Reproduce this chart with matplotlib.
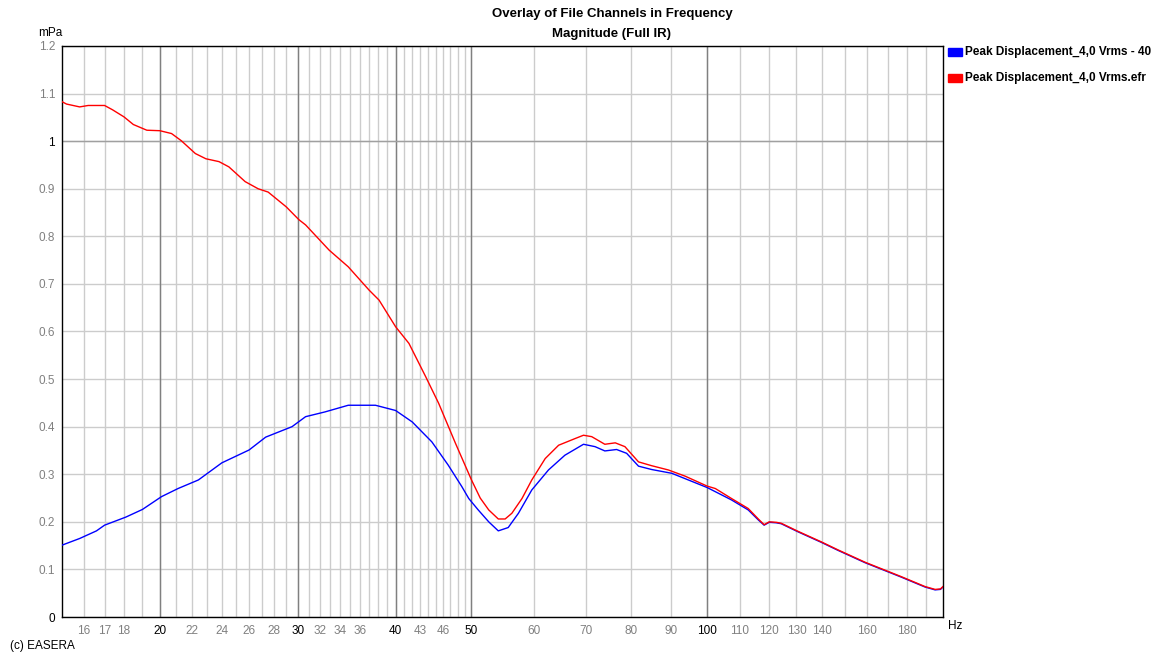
import numpy as np
import matplotlib
matplotlib.use("Agg")
import matplotlib.pyplot as plt
from matplotlib.ticker import NullFormatter

plt.rcParams['font.family'] = ['Liberation Sans', 'DejaVu Sans']

# Frequencies (Hz) and magnitudes (mPa)
freq_red = [15, 15.2, 15.8, 16.2, 17.0, 17.4, 18, 18.5, 19.25, 20, 20.7, 21.3, 22.2, 22.9, 23.8,
            24.5, 25.7, 26.7, 27.5, 29.0, 30.1, 30.7, 32.9, 34.8, 37.0, 38.1, 40, 41.6, 43.7,
            45.4, 47.7, 50.0, 51.3, 52.6, 54.1, 55.2, 56.3, 58.0, 59.7, 62.1, 64.6, 67.8, 69.5,
            71.2, 74.0, 76.3, 78.5, 81.7, 84.9, 89.2, 93.7, 100, 102.4, 107.4, 112.8, 116.2,
            118.2, 120, 122.5, 124.3, 130.6, 139.8, 146.9, 159.1, 176.8, 189.7, 195.4, 198.5, 200]
mag_red = [1.083, 1.078, 1.072, 1.075, 1.075, 1.066, 1.051, 1.035, 1.023, 1.022, 1.016, 1.001,
           0.974, 0.963, 0.957, 0.946, 0.915, 0.900, 0.893, 0.862, 0.835, 0.824, 0.771, 0.736,
           0.687, 0.666, 0.610, 0.575, 0.505, 0.449, 0.365, 0.288, 0.250, 0.225, 0.206, 0.206,
           0.218, 0.249, 0.288, 0.333, 0.361, 0.375, 0.382, 0.379, 0.363, 0.366, 0.358, 0.326,
           0.318, 0.309, 0.296, 0.275, 0.270, 0.249, 0.228, 0.206, 0.194, 0.200, 0.199, 0.197,
           0.180, 0.158, 0.141, 0.115, 0.085, 0.064, 0.058, 0.059, 0.064]

freq_blue = [15, 15.8, 16.6, 17.0, 18.1, 19.0, 20.1, 21.1, 22.4, 24.0, 26.0, 27.3, 29.5, 30.7,
             32.5, 34.8, 37.7, 40, 42.0, 44.5, 46.7, 48.6, 49.6, 51, 52.6, 54.1, 55.7, 57.4,
             59.7, 62.7, 65.8, 69.5, 71.9, 74.0, 76.6, 78.9, 81.7, 84.9, 90.1, 100, 107.4, 112.8,
             116.2, 118.2, 120, 122.5, 124.3, 130.6, 139.8, 146.9, 159.1, 176.8, 189.7, 195.4,
             198.5, 200]
mag_blue = [0.151, 0.165, 0.181, 0.193, 0.210, 0.226, 0.253, 0.270, 0.288, 0.324, 0.351, 0.378,
            0.400, 0.421, 0.431, 0.445, 0.445, 0.434, 0.410, 0.368, 0.319, 0.274, 0.249, 0.225,
            0.200, 0.181, 0.188, 0.218, 0.267, 0.309, 0.340, 0.363, 0.358, 0.349, 0.352, 0.344,
            0.317, 0.310, 0.302, 0.272, 0.246, 0.225, 0.204, 0.193, 0.199, 0.198, 0.196, 0.179,
            0.157, 0.140, 0.114, 0.084, 0.063, 0.057, 0.058, 0.063]

x_labels = [16, 17, 18, 20, 22, 24, 26, 28, 30, 32, 34, 36, 40, 43, 46, 50, 60, 70, 80, 90,
            100, 110, 120, 130, 140, 160, 180]
x_bold = [20, 30, 40, 50, 100]
x_grid = list(range(16, 51)) + list(range(60, 200, 10))
y_ticks = [0, 0.1, 0.2, 0.3, 0.4, 0.5, 0.6, 0.7, 0.8, 0.9, 1, 1.1, 1.2]
y_labels = ["0", "0.1", "0.2", "0.3", "0.4", "0.5", "0.6", "0.7", "0.8", "0.9", "1", "1.1", "1.2"]

fig = plt.figure(figsize=(11.66, 6.53), dpi=100)
ax = fig.add_axes([62 / 1166, 36 / 653, 881 / 1166, 571 / 653])

ax.set_xscale('log')
ax.set_xlim(15, 200)
ax.set_ylim(0, 1.2)

# grid
ax.set_xticks(x_grid, minor=True)
ax.xaxis.set_minor_formatter(NullFormatter())
ax.set_xticks(x_labels)
ax.set_xticklabels([str(v) for v in x_labels])
ax.set_yticks(y_ticks)
ax.set_yticklabels(y_labels)
ax.tick_params(which='both', length=0, labelsize=8.5)
ax.tick_params(axis='x', pad=6)
ax.tick_params(axis='y', pad=5)
ax.grid(which='both', axis='x', color='#cccccc', linewidth=1)
ax.grid(which='major', axis='y', color='#cccccc', linewidth=1)
for xv in x_bold:
    ax.axvline(xv, color='#808080', linewidth=1, zorder=1)
ax.axhline(1, color='#a0a0a0', linewidth=1, zorder=1)
ax.set_axisbelow(True)

for lbl, v in zip(ax.get_xticklabels(), x_labels):
    lbl.set_color('black' if v in x_bold else '#808080')
for lbl, v in zip(ax.get_yticklabels(), y_labels):
    lbl.set_color('black' if v in ("0", "1") else '#808080')

for sp in ax.spines.values():
    sp.set_color('black')
    sp.set_linewidth(1)

ax.plot(freq_blue, mag_blue, color='#0000ff', linewidth=1, zorder=3)
ax.plot(freq_red, mag_red, color='#ff0000', linewidth=1, zorder=4)

# titles and labels
fig.text(612 / 1166, 1 - 14 / 653, "Overlay of File Channels in Frequency", ha='center', va='center',
         fontsize=9.5, fontweight='bold')
fig.text(612 / 1166, 1 - 34 / 653, "Magnitude (Full IR)", ha='center', va='center',
         fontsize=9.5, fontweight='bold')
fig.text(38 / 1166, 1 - 33 / 653, "mPa", ha='left', va='center', fontsize=8.5)
fig.text(948 / 1166, 1 - 626 / 653, "Hz", ha='left', va='center', fontsize=8.5)
fig.text(10 / 1166, 1 - 646 / 653, "(c) EASERA", ha='left', va='center', fontsize=8.5)

# legend
legend_names = ["Peak Displacement_4,0 Vrms - 40", "Peak Displacement_4,0 Vrms.efr"]
legend_colors = ['#0000ff', '#ff0000']
for i, (name, col) in enumerate(zip(legend_names, legend_colors)):
    yc = 1 - (52 + 26 * i) / 653
    fig.patches.append(plt.Rectangle((948 / 1166, yc - 4 / 653), 14 / 1166, 8 / 653,
                                     transform=fig.transFigure, color=col))
    fig.text(965 / 1166, yc, name, ha='left', va='center', fontsize=8.5, fontweight='bold')

fig.savefig("out.png", dpi=100)
